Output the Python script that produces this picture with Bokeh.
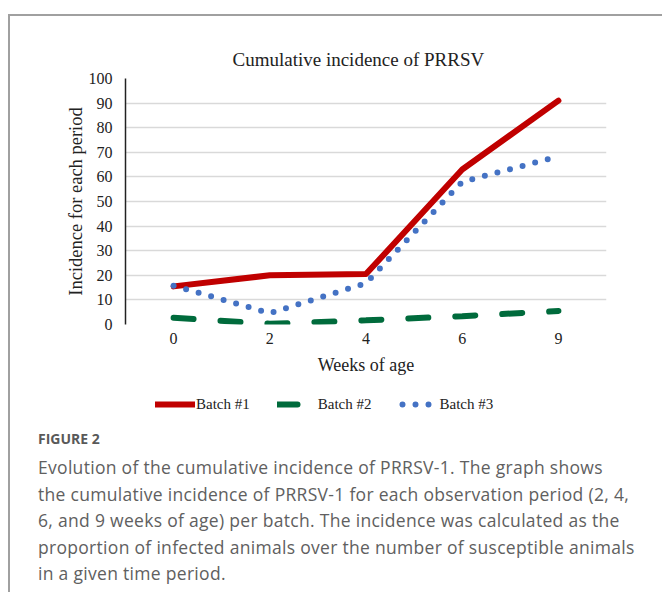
from bokeh.plotting import figure
from bokeh.models import Legend, LegendItem, Range1d, FactorRange, Div
from bokeh.layouts import column
from bokeh.embed import file_html
from bokeh.resources import INLINE

weeks = ["0", "2", "4", "6", "9"]
batch1 = [15.5, 20, 20.5, 63, 91]
batch2 = [2.7, 0.3, 1.7, 3.4, 5.5]
batch3 = [15.8, 4.6, 16.8, 58, 68.3]
yticks = [0, 10, 20, 30, 40, 50, 60, 70, 80, 90, 100]
series_names = ["Batch #1", "Batch #2", "Batch #3"]

title_text = "Cumulative incidence of PRRSV"
xlabel = "Weeks of age"
ylabel = "Incidence for each period"
fig_label = "FIGURE 2"
caption = [
    "Evolution of the cumulative incidence of PRRSV-1. The graph shows",
    "the cumulative incidence of PRRSV-1 for each observation period (2, 4,",
    "6, and 9 weeks of age) per batch. The incidence was calculated as the",
    "proportion of infected animals over the number of susceptible animals",
    "in a given time period.",
]

SERIF = "Liberation Serif"
SANS = "Open Sans"
INK = "#222222"
RED, GREEN, BLUE = "#C00000", "#006B3C", "#4472C4"

# ---------------- chart ----------------
p = figure(width=652, height=368, x_range=FactorRange(factors=weeks, range_padding=0),
           y_range=Range1d(0, 100), output_backend="svg", toolbar_location=None,
           min_border_left=115, min_border_right=56, min_border_top=62, min_border_bottom=60)
p.outline_line_color = None

p.title.text = title_text
p.title.align = "left"
p.title.offset = 107
p.title.standoff = 17
p.title.text_font = SERIF
p.title.text_font_size = "19px"
p.title.text_font_style = "normal"
p.title.text_color = INK

p.yaxis.ticker = yticks
p.yaxis.axis_line_color = INK
p.yaxis.axis_line_width = 1.5
p.yaxis.major_tick_line_color = None
p.yaxis.major_tick_out = 0
p.yaxis.minor_tick_line_color = None
p.yaxis.minor_tick_out = 0
p.yaxis.major_label_text_font = SERIF
p.yaxis.major_label_text_font_size = "16px"
p.yaxis.major_label_text_color = INK
p.yaxis.major_label_standoff = 13
p.yaxis.axis_label = ylabel
p.yaxis.axis_label_text_font = SERIF
p.yaxis.axis_label_text_font_size = "18.5px"
p.yaxis.axis_label_text_font_style = "normal"
p.yaxis.axis_label_text_color = INK
p.yaxis.axis_label_standoff = 0

p.xaxis.axis_line_color = None
p.xaxis.major_tick_line_color = None
p.xaxis.major_tick_out = 0
p.xaxis.minor_tick_line_color = None
p.xaxis.major_label_text_font = SERIF
p.xaxis.major_label_text_font_size = "16px"
p.xaxis.major_label_text_color = INK
p.xaxis.major_label_standoff = 8
p.xaxis.axis_label = xlabel
p.xaxis.axis_label_text_font = SERIF
p.xaxis.axis_label_text_font_size = "18px"
p.xaxis.axis_label_text_font_style = "normal"
p.xaxis.axis_label_text_color = INK
p.xaxis.axis_label_standoff = 8

p.xgrid.grid_line_color = None
p.ygrid.grid_line_color = "#d9d9d9"
p.ygrid.grid_line_width = 1.5

p.line(weeks, batch1, line_color=RED, line_width=6, line_cap="round", line_join="round")
p.line(weeks, batch2, line_color=GREEN, line_width=6, line_cap="round", line_dash="20 27")
p.line(weeks, batch3, line_color=BLUE, line_width=6, line_cap="round", line_dash="0 13")

# ---------------- legend strip ----------------
# same series again, drawn outside this strip's view, only to feed the legend samples
q = figure(width=652, height=40, x_range=FactorRange(factors=weeks, range_padding=0),
           y_range=Range1d(-300, -200), x_axis_type=None, y_axis_type=None,
           output_backend="svg", toolbar_location=None,
           min_border_left=115, min_border_right=56, min_border_top=0, min_border_bottom=0)
q.grid.visible = False
q.outline_line_color = None

k1 = q.line(weeks, batch1, line_color=RED, line_width=6, line_cap="round")
k2 = q.line(weeks, batch2, line_color=GREEN, line_width=6, line_cap="round", line_dash="20 40")
k3 = q.line(weeks, batch3, line_color=BLUE, line_width=6, line_cap="round",
            line_dash="0 13 0 13 0 13 0 30", line_dash_offset=10)

legend = Legend(items=[LegendItem(label=n, renderers=[r]) for n, r in zip(series_names, [k1, k2, k3])],
                orientation="horizontal", location=(30, 10), glyph_width=40, glyph_height=20,
                label_standoff=1, spacing=27, padding=0, margin=0,
                border_line_color=None, background_fill_alpha=0,
                label_text_font=SERIF, label_text_font_size="15px", label_text_color=INK)
q.add_layout(legend, "center")

# ---------------- caption ----------------
lines_html = "<br>".join(caption)
cap_html = (
    "<div style=\"position:relative; top:0px; left:23px; font-family:'Open Sans'; "
    "white-space:nowrap;\">"
    "<div style=\"font-size:14px; font-weight:bold; line-height:20px; color:#595959;\">"
    + fig_label + "</div>"
    "<div style=\"margin-top:5px; font-size:17.5px; letter-spacing:0.3px; line-height:26.5px; "
    "color:#606060;\">" + lines_html + "</div></div>"
)
cap = Div(text=cap_html, width=652, height=168)

layout = column(p, q, cap, spacing=0,
                styles={"margin-left": "8px", "margin-top": "14px",
                        "border-left": "2px solid #a0a0a0", "border-top": "2px solid #a0a0a0"})

open("out.html", "w").write(file_html(layout, INLINE))
